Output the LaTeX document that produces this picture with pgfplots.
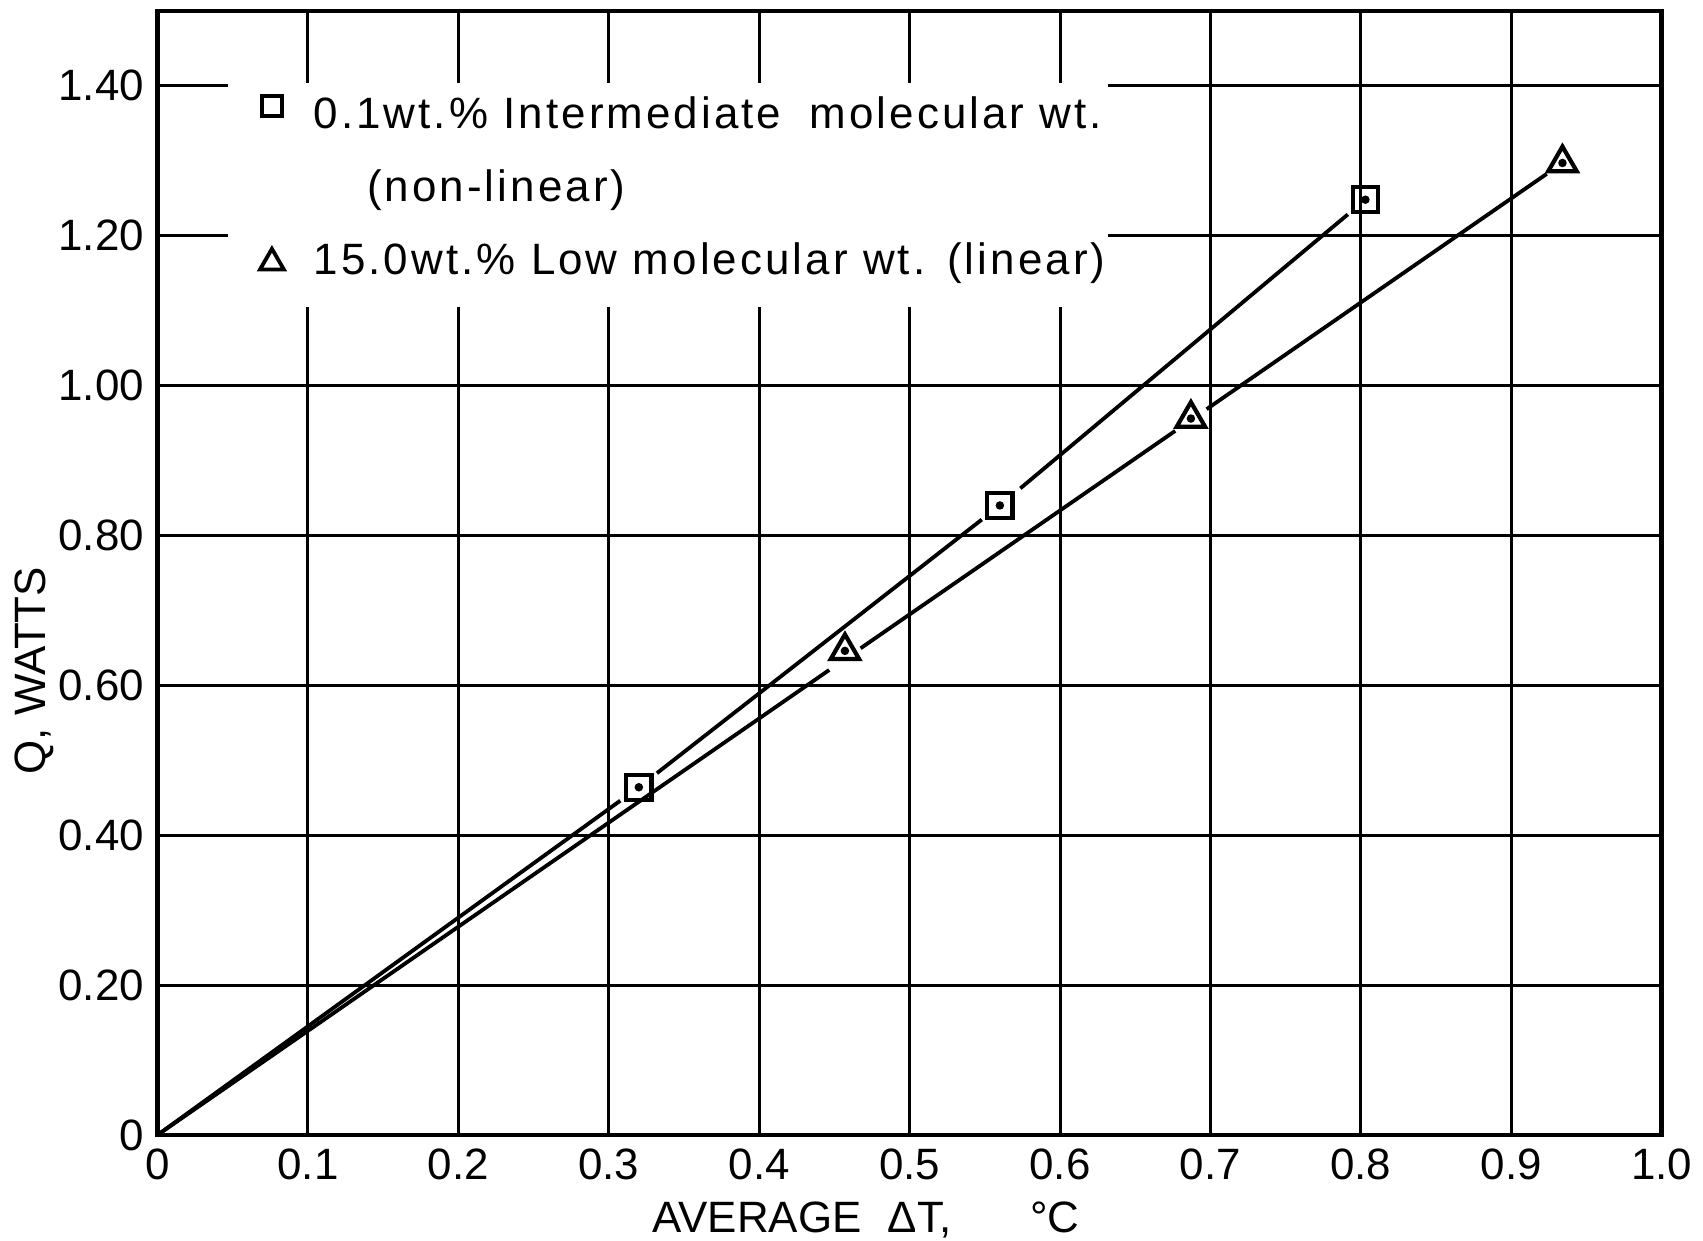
\documentclass[border=0pt]{standalone}
\usepackage{pgfplots}
\pgfplotsset{compat=1.18}
\usepackage{fontspec}
\setmainfont{Liberation Sans}
\newfontfamily\legfont[LetterSpace=7]{Liberation Sans}
\begin{document}
\begin{tikzpicture}
\useasboundingbox (-1.45,-0.97) rectangle (14.23,10.45);
\begin{axis}[
  at={(0,0)}, anchor=south west,
  scale only axis, width=13.85cm, height=10.35cm,
  xmin=0, xmax=1.0, ymin=0, ymax=1.5,
  xtick={0,0.1,0.2,0.3,0.4,0.5,0.6,0.7,0.8,0.9,1.0},
  xticklabels={0,0.1,0.2,0.3,0.4,0.5,0.6,0.7,0.8,0.9,1.0},
  ytick={0,0.2,0.4,0.6,0.8,1.0,1.2,1.4},
  yticklabels={0,0.20,0.40,0.60,0.80,1.00,1.20,1.40},
  major tick length=0pt,
  grid=major,
  major grid style={black, line width=0.8pt},
  axis line style={black, line width=1.2pt},
  tick label style={font=\fontsize{11.5}{13}\selectfont},
  xlabel={AVERAGE\hspace{0.6em}ΔT,\hspace{1.8em}°C},
  ylabel={Q, WATTS},
  label style={font=\fontsize{11.5}{13}\selectfont},
  xlabel style={at={(axis description cs:0.471,0)}, anchor=base, yshift=-0.90cm},
  ylabel style={at={(axis description cs:-0.0744,0.413)}, anchor=base},
  legend style={draw=none, fill=none, at={(axis cs:0.0463,1.402)}, anchor=north west,
    font=\fontsize{11.5}{13}\selectfont\legfont, row sep=6pt,
    nodes={inner sep=1pt, text height=8.5pt, text depth=2.5pt},
    cells={anchor=west},
    /tikz/every odd column/.append style={column sep=0.24cm}},
]
\fill[white] (axis cs:0.047,1.105) rectangle (axis cs:0.632,1.404);

% square series (non-linear), segments with gaps at markers
\addplot[forget plot, black, line width=1pt, shorten >=6pt] coordinates {(0,0) (0.320,0.464)};
\addplot[forget plot, black, line width=1pt, shorten >=6pt, shorten <=6pt] coordinates {(0.320,0.464) (0.560,0.840)};
\addplot[forget plot, black, line width=1pt, shorten >=6pt, shorten <=7pt] coordinates {(0.560,0.840) (0.803,1.248)};
% triangle series (linear)
\addplot[forget plot, black, line width=1pt, shorten >=5pt] coordinates {(0,0) (0.457,0.635)};
\addplot[forget plot, black, line width=1pt, shorten >=5pt, shorten <=5pt] coordinates {(0.457,0.635) (0.687,0.954)};
\addplot[forget plot, black, line width=1pt, shorten >=5pt, shorten <=5pt] coordinates {(0.687,0.954) (0.934,1.297)};

% markers
\addplot[forget plot, only marks, mark=square, mark size=3.3pt, mark options={black, line width=1.1pt}]
  coordinates {(0.320,0.464) (0.560,0.840) (0.803,1.248)};
\addplot[forget plot, only marks, mark=triangle, mark size=4.3pt, mark options={black, line width=1.1pt}]
  coordinates {(0.457,0.646) (0.687,0.956) (0.934,1.297)};
\addplot[forget plot, only marks, mark=*, mark size=0.9pt, black]
  coordinates {(0.320,0.464) (0.560,0.840) (0.803,1.248) (0.457,0.646) (0.687,0.956) (0.934,1.297)};

\addlegendimage{only marks, mark=square, mark size=2.6pt, mark options={black, line width=1pt}, yshift=3pt}
\addlegendentry{0.1wt.\% Intermediate\hspace{0.3em} molecular wt.}
\addlegendimage{empty legend}
\addlegendentry{\hspace{14pt}(non-linear)}
\addlegendimage{only marks, mark=triangle, mark size=3.6pt, mark options={black, line width=1pt}}
\addlegendentry{15.0wt.\% Low molecular wt.\hspace{0.5em}(linear)}
\end{axis}
\end{tikzpicture}
\end{document}
